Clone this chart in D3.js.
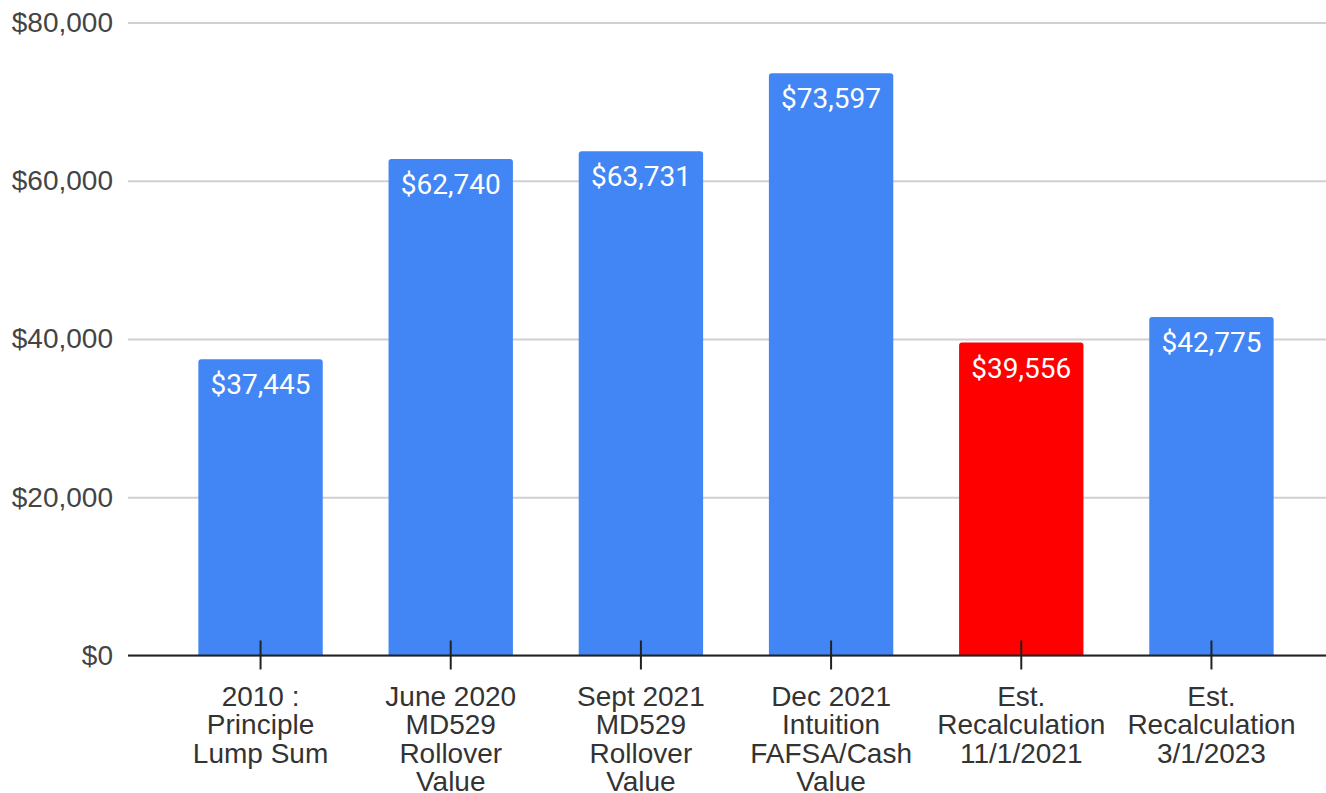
<!DOCTYPE html>
<html>
<head>
<meta charset="utf-8">
<script src="https://cdn.jsdelivr.net/npm/d3@7"></script>
<style>
  html, body { margin: 0; padding: 0; background: #fff; }
  svg { display: block; }
</style>
</head>
<body>
<svg id="chart" width="1326" height="793"></svg>
<script>
// Chart data
const categories = [
  '2010 : Principle Lump Sum',
  'June 2020 MD529 Rollover Value',
  'Sept 2021 MD529 Rollover Value',
  'Dec 2021 Intuition FAFSA/Cash Value',
  'Est. Recalculation 11/1/2021',
  'Est. Recalculation 3/1/2023'
];
const categoryLines = [
  ['2010 :', 'Principle', 'Lump Sum'],
  ['June 2020', 'MD529', 'Rollover', 'Value'],
  ['Sept 2021', 'MD529', 'Rollover', 'Value'],
  ['Dec 2021', 'Intuition', 'FAFSA/Cash', 'Value'],
  ['Est.', 'Recalculation', '11/1/2021'],
  ['Est.', 'Recalculation', '3/1/2023']
];
const values = [37445, 62740, 63731, 73597, 39556, 42775];
const barColors = ['#4285f4', '#4285f4', '#4285f4', '#4285f4', '#ff0000', '#4285f4'];
const yTicks = [0, 20000, 40000, 60000, 80000];

const svg = d3.select('#chart');
const plotLeft = 128;
const plotRight = 1326;
const yTop = 22.5;
const yBottom = 655.5;

const x = d3.scaleBand()
  .domain(categories)
  .range([plotLeft, 1344])
  .paddingInner(0.346)
  .paddingOuter(0.37);

const y = d3.scaleLinear()
  .domain([0, 80000])
  .range([yBottom, yTop]);

const money = d3.format('$,');

// Gridlines + y labels
const yAxis = svg.append('g')
  .attr('transform', `translate(${plotLeft},0)`)
  .call(d3.axisLeft(y)
    .tickValues(yTicks)
    .tickFormat(money)
    .tickSize(-(plotRight - plotLeft))
    .tickPadding(15));
yAxis.select('.domain').remove();
yAxis.selectAll('.tick line')
  .attr('stroke', '#d0d0d0')
  .attr('stroke-width', 2);
yAxis.selectAll('.tick text')
  .attr('fill', '#444')
  .style('font-family', 'Liberation Sans, Arial, sans-serif')
  .style('font-size', '28px');

// Bars with slightly rounded tops
const r = 3;
svg.append('g')
  .selectAll('path')
  .data(values)
  .enter().append('path')
  .attr('fill', (v, i) => barColors[i])
  .attr('d', (v, i) => {
    const x0 = x(categories[i]);
    const w = x.bandwidth();
    const top = y(v);
    return `M${x0},${yBottom} V${top + r} Q${x0},${top} ${x0 + r},${top}` +
      ` H${x0 + w - r} Q${x0 + w},${top} ${x0 + w},${top + r} V${yBottom} Z`;
  });

// Value labels inside bars
svg.append('g')
  .selectAll('text')
  .data(values)
  .enter().append('text')
  .attr('x', (v, i) => x(categories[i]) + x.bandwidth() / 2)
  .attr('y', v => y(v) + 35)
  .attr('text-anchor', 'middle')
  .attr('fill', '#fff')
  .style('font-family', 'Roboto, sans-serif')
  .style('font-size', '28px')
  .text(v => money(v));

// X axis
const xAxis = svg.append('g')
  .attr('transform', `translate(0,${yBottom})`)
  .call(d3.axisBottom(x).tickSizeInner(14).tickSizeOuter(0).tickFormat(''));
xAxis.select('.domain')
  .attr('d', `M${plotLeft},0H${plotRight}`)
  .attr('stroke', '#222')
  .attr('stroke-width', 2);
xAxis.selectAll('.tick line')
  .attr('y1', -15)
  .attr('stroke', '#222')
  .attr('stroke-width', 2);
xAxis.selectAll('.tick text').remove();

// Multi-line category labels
xAxis.selectAll('.tick')
  .append('text')
  .attr('text-anchor', 'middle')
  .attr('fill', '#333')
  .style('font-family', 'Liberation Sans, Arial, sans-serif')
  .style('font-size', '28px')
  .each(function(d, i) {
    d3.select(this).selectAll('tspan')
      .data(categoryLines[i])
      .enter().append('tspan')
      .attr('x', 0)
      .attr('y', (t, j) => 50 + j * 28.5)
      .text(t => t);
  });
</script>
</body>
</html>
